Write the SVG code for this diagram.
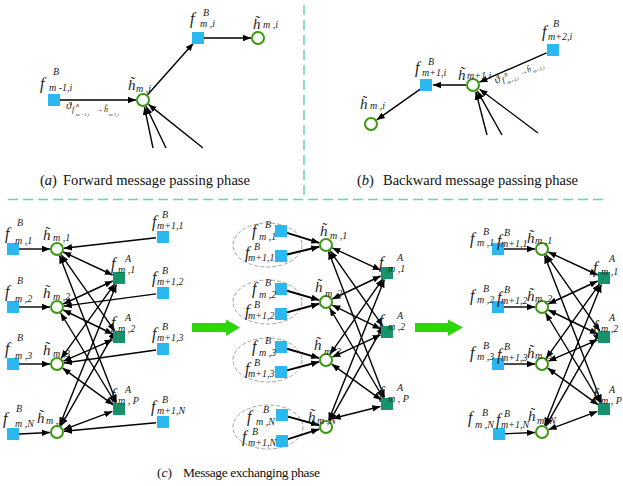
<svg xmlns="http://www.w3.org/2000/svg" width="623" height="486" viewBox="0 0 623 486">
<style>
.L{font-family:"Liberation Serif","Times New Roman",serif;font-style:italic;fill:#222}
.F{font-size:16px}
.H{font-size:15px}
.S{font-size:10px}
.cap{font-family:"Liberation Serif","Times New Roman",serif;fill:#111}
.e{stroke:#000;stroke-width:1.4;fill:none;marker-end:url(#ah)}
.bi{marker-start:url(#ah)}
.tk{stroke-width:2}
.sb{fill:#2bb8ee}
.sa{fill:#17936b}
.c{fill:#fff;stroke:#3a9a10;stroke-width:2}
.dl{stroke:#66d4b0;stroke-width:1.5;stroke-dasharray:10 5;fill:none}
.el{fill:none;stroke:#8a8a8a;stroke-width:0.8;stroke-dasharray:4 2}
.ga{fill:#30d40a}
</style>
<defs>
<marker id="ah" viewBox="0 0 10 10" refX="10" refY="5" markerWidth="8" markerHeight="8" markerUnits="userSpaceOnUse" orient="auto-start-reverse"><path d="M0,1 L10,5 L0,9 z" fill="#000"/></marker>
</defs>
<rect width="623" height="486" fill="#fff"/>

<g id="separators">
<line class="dl" x1="304" y1="5" x2="304" y2="199"/>
<line class="dl" x1="8" y1="199.5" x2="607" y2="199.5"/>
</g>

<g id="phase-arrows">
<polygon class="ga" points="192,323 226,323 226,319.5 240,327.5 226,336 226,332 192,332"/>
<polygon class="ga" points="415,323 448,323 448,319.5 463,327.5 448,336 448,332 415,332"/>
</g>

<g id="ellipses">
<ellipse class="el" cx="267.5" cy="245" rx="34.5" ry="22"/>
<ellipse class="el" cx="267.5" cy="302" rx="34.5" ry="22"/>
<ellipse class="el" cx="267.5" cy="360" rx="34.5" ry="22"/>
<ellipse class="el" cx="268" cy="427" rx="35" ry="22"/>
</g>

<g id="connectors">
<!-- panel a -->
<line class="e" x1="60" y1="100" x2="136" y2="100"/>
<line class="e" x1="147.6" y1="94.8" x2="193.4" y2="43.2"/>
<line class="e" x1="204" y1="38" x2="251" y2="38"/>
<line class="e" x1="153" y1="148" x2="144.4" y2="106.9"/>
<line class="e" x1="166" y1="148" x2="146" y2="106.3"/>
<line class="e" x1="203" y1="148" x2="148.5" y2="104.4"/>
<!-- panel b -->
<line class="e" x1="546.6" y1="52.8" x2="479.4" y2="82.2"/>
<line class="e" x1="466" y1="85" x2="433" y2="85"/>
<line class="e" x1="420.3" y1="89.1" x2="376.7" y2="119.9"/>
<line class="e" x1="487" y1="135" x2="475.8" y2="91.8"/>
<line class="e" x1="502" y1="135" x2="477.4" y2="91.1"/>
<line class="e" x1="538" y1="133" x2="479.6" y2="89.2"/>
<!-- panel c left -->
<line class="e" x1="19" y1="249" x2="50" y2="249"/>
<line class="e" x1="19" y1="307" x2="50" y2="307"/>
<line class="e" x1="19" y1="364" x2="50" y2="364"/>
<line class="e" x1="19" y1="434" x2="50" y2="432.5"/>
<line class="e" x1="156" y1="237.8" x2="64" y2="248.2"/>
<line class="e" x1="156.1" y1="293.9" x2="63.9" y2="306.1"/>
<line class="e" x1="156.1" y1="350" x2="63.9" y2="363"/>
<line class="e" x1="156" y1="422.7" x2="64" y2="431.3"/>
<line class="e bi" x1="63.3" y1="252" x2="112.7" y2="275"/>
<line class="e bi" x1="61" y1="254.7" x2="115" y2="331.3"/>
<line class="e bi" x1="59.5" y1="255.5" x2="116.5" y2="402.5"/>
<line class="e bi" x1="63.3" y1="304" x2="112.7" y2="281"/>
<line class="e bi" x1="63.3" y1="310" x2="112.7" y2="334"/>
<line class="e bi" x1="60.6" y1="313" x2="115.4" y2="403"/>
<line class="e bi" x1="61.1" y1="358.3" x2="114.9" y2="283.7"/>
<line class="e bi" x1="63.4" y1="361.2" x2="112.6" y2="339.8"/>
<line class="e bi" x1="62.7" y1="368.1" x2="113.3" y2="404.9"/>
<line class="e bi" x1="59.6" y1="425.5" x2="116.4" y2="284.5"/>
<line class="e bi" x1="60.8" y1="426.1" x2="115.2" y2="331.1"/>
<line class="e bi" x1="63.6" y1="429.6" x2="112.4" y2="411.4"/>
<!-- panel c middle -->
<line class="e tk" x1="287" y1="232.9" x2="319.3" y2="242.9"/>
<line class="e tk" x1="287" y1="254.5" x2="319.2" y2="246.7"/>
<line class="e tk" x1="287" y1="290.7" x2="319.3" y2="300.1"/>
<line class="e tk" x1="287" y1="312.4" x2="319.2" y2="303.8"/>
<line class="e tk" x1="287" y1="348.7" x2="319.3" y2="358.1"/>
<line class="e tk" x1="287" y1="370.4" x2="319.2" y2="361.8"/>
<line class="e tk" x1="288" y1="416.6" x2="319.2" y2="425.2"/>
<line class="e tk" x1="288" y1="439.1" x2="319.3" y2="429.1"/>
<line class="e bi" x1="332.4" y1="247.9" x2="380.6" y2="270.1"/>
<line class="e bi" x1="330" y1="250.7" x2="383" y2="326.3"/>
<line class="e bi" x1="328.5" y1="251.5" x2="384.5" y2="397.5"/>
<line class="e bi" x1="332.3" y1="299" x2="380.7" y2="276"/>
<line class="e bi" x1="332.3" y1="305.1" x2="380.7" y2="328.9"/>
<line class="e bi" x1="329.6" y1="308" x2="383.4" y2="398"/>
<line class="e bi" x1="330" y1="354.3" x2="383" y2="278.7"/>
<line class="e bi" x1="332.4" y1="357.1" x2="380.6" y2="334.9"/>
<line class="e bi" x1="331.7" y1="364.1" x2="381.3" y2="399.9"/>
<line class="e bi" x1="328.6" y1="420.5" x2="384.4" y2="279.5"/>
<line class="e bi" x1="329.8" y1="421.1" x2="383.2" y2="326.1"/>
<line class="e bi" x1="332.6" y1="418.5" x2="380.4" y2="406.5"/>
<!-- panel c right -->
<line class="e" x1="504" y1="249" x2="535" y2="249"/>
<line class="e" x1="504" y1="307" x2="535" y2="307"/>
<line class="e" x1="504" y1="364" x2="535" y2="364"/>
<line class="e" x1="505" y1="433.8" x2="535" y2="432.5"/>
<line class="e bi" x1="548.3" y1="252" x2="597.7" y2="275"/>
<line class="e bi" x1="546" y1="254.7" x2="600" y2="331.3"/>
<line class="e bi" x1="544.5" y1="255.5" x2="601.5" y2="402.5"/>
<line class="e bi" x1="548.3" y1="304" x2="597.7" y2="281"/>
<line class="e bi" x1="548.3" y1="310" x2="597.7" y2="334"/>
<line class="e bi" x1="545.6" y1="313" x2="600.4" y2="403"/>
<line class="e bi" x1="546.1" y1="358.3" x2="599.9" y2="283.7"/>
<line class="e bi" x1="548.4" y1="361.2" x2="597.6" y2="339.8"/>
<line class="e bi" x1="547.7" y1="368.1" x2="598.3" y2="404.9"/>
<line class="e bi" x1="544.6" y1="425.5" x2="601.4" y2="284.5"/>
<line class="e bi" x1="545.8" y1="426.1" x2="600.2" y2="331.1"/>
<line class="e bi" x1="548.6" y1="429.6" x2="597.4" y2="411.4"/>
</g>

<g id="edge-labels">
<text class="L"><tspan x="66" y="109" font-size="11">ϑ</tspan><tspan x="72" y="112" font-size="8">f</tspan><tspan x="76" y="107" font-size="5">B</tspan><tspan x="76" y="115.5" font-size="5">m −1,i</tspan><tspan x="95" y="112" font-size="8" font-style="normal">→</tspan><tspan x="104" y="112" font-size="8">h̃</tspan><tspan x="109" y="115.5" font-size="5">m    1,i</tspan></text>
<g transform="translate(496,84) rotate(-23)">
<text class="L"><tspan x="0" y="0" font-size="11">ϑ</tspan><tspan x="7" y="2" font-size="8">f</tspan><tspan x="11" y="-3" font-size="5">B</tspan><tspan x="11" y="5" font-size="5">m+2,i</tspan><tspan x="26" y="2" font-size="8" font-style="normal">→</tspan><tspan x="34" y="2" font-size="8">h̃</tspan><tspan x="39" y="5" font-size="5">m+1,i</tspan></text>
</g>
</g>

<!-- Panel (a) nodes -->
<g id="a-f-m-1-i"><rect class="sb" x="48" y="94" width="12" height="12"/>
<text class="L"><tspan class="F" x="40" y="89">f</tspan><tspan class="S" x="53" y="75">B</tspan><tspan class="S" x="49" y="91">m -1,i</tspan></text></g>
<g id="a-h-m-i"><circle class="c" cx="143" cy="100" r="6"/>
<text class="L"><tspan class="H" x="128" y="90">h̃</tspan><tspan class="S" x="136" y="92">m ,i</tspan></text></g>
<g id="a-f-m-i"><rect class="sb" x="192" y="32" width="12" height="12"/>
<text class="L"><tspan class="F" x="190" y="24">f</tspan><tspan class="S" x="203" y="16">B</tspan><tspan class="S" x="200" y="27">m ,i</tspan></text></g>
<g id="a-h-m-i-out"><circle class="c" cx="258" cy="38" r="6"/>
<text class="L"><tspan class="H" x="253" y="29">h̃</tspan><tspan class="S" x="263" y="28">m ,i</tspan></text></g>

<!-- Panel (b) nodes -->
<g id="b-f-m2-i"><rect class="sb" x="547" y="44" width="12" height="12"/>
<text class="L"><tspan class="F" x="542" y="37">f</tspan><tspan class="S" x="553" y="27">B</tspan><tspan class="S" x="548" y="40">m+2,i</tspan></text></g>
<g id="b-h-m1-i"><circle class="c" cx="473" cy="85" r="6"/>
<text class="L"><tspan class="H" x="458" y="80">h̃</tspan><tspan class="S" x="467" y="79">m+1,i</tspan></text></g>
<g id="b-f-m1-i"><rect class="sb" x="420" y="79" width="12" height="12"/>
<text class="L"><tspan class="F" x="415" y="73">f</tspan><tspan class="S" x="428" y="65">B</tspan><tspan class="S" x="422" y="76">m+1,i</tspan></text></g>
<g id="b-h-m-i"><circle class="c" cx="371" cy="124" r="6"/>
<text class="L"><tspan class="H" x="360" y="109">h̃</tspan><tspan class="S" x="370" y="109">m ,i</tspan></text></g>

<!-- Panel (c) left -->
<g id="cl-fB-m-1"><rect class="sb" x="7" y="243" width="12" height="12"/>
<text class="L"><tspan class="F" x="5" y="239">f</tspan><tspan class="S" x="17" y="226">B</tspan><tspan class="S" x="15" y="244">m ,1</tspan></text></g>
<g id="cl-fB-m-2"><rect class="sb" x="7" y="301" width="12" height="12"/>
<text class="L"><tspan class="F" x="5" y="297">f</tspan><tspan class="S" x="17" y="284">B</tspan><tspan class="S" x="15" y="302">m ,2</tspan></text></g>
<g id="cl-fB-m-3"><rect class="sb" x="7" y="358" width="12" height="12"/>
<text class="L"><tspan class="F" x="5" y="354">f</tspan><tspan class="S" x="17" y="341">B</tspan><tspan class="S" x="15" y="359">m ,3</tspan></text></g>
<g id="cl-fB-m-N"><rect class="sb" x="7" y="428" width="12" height="12"/>
<text class="L"><tspan class="F" x="3" y="424">f</tspan><tspan class="S" x="16" y="412">B</tspan><tspan class="S" x="15" y="427">m ,N</tspan></text></g>

<g id="cl-h-1"><circle class="c" cx="57" cy="249" r="6"/>
<text class="L"><tspan class="H" x="43" y="240">h̃</tspan><tspan class="S" x="53" y="241">m ,1</tspan></text></g>
<g id="cl-h-2"><circle class="c" cx="57" cy="307" r="6"/>
<text class="L"><tspan class="H" x="43" y="298">h̃</tspan><tspan class="S" x="53" y="300">m ,2</tspan></text></g>
<g id="cl-h-3"><circle class="c" cx="57" cy="364" r="6"/>
<text class="L"><tspan class="H" x="43" y="355">h̃</tspan><tspan class="S" x="53" y="357">m ,3</tspan></text></g>
<g id="cl-h-N"><circle class="c" cx="57" cy="432" r="6"/>
<text class="L"><tspan class="H" x="37" y="423">h̃</tspan><tspan class="S" x="46" y="424">m ,N</tspan></text></g>

<g id="cl-fA-1"><rect class="sa" x="113" y="272" width="12" height="12"/>
<text class="L"><tspan class="F" x="111" y="269">f</tspan><tspan class="S" x="125" y="262">A</tspan><tspan class="S" x="118" y="273">m ,1</tspan></text></g>
<g id="cl-fA-2"><rect class="sa" x="113" y="331" width="12" height="12"/>
<text class="L"><tspan class="F" x="111" y="328">f</tspan><tspan class="S" x="125" y="321">A</tspan><tspan class="S" x="118" y="332">m ,2</tspan></text></g>
<g id="cl-fA-P"><rect class="sa" x="113" y="403" width="12" height="12"/>
<text class="L"><tspan class="F" x="111" y="400">f</tspan><tspan class="S" x="125" y="393">A</tspan><tspan class="S" x="118" y="404">m , P</tspan></text></g>

<g id="cl-fB-m1-1"><rect class="sb" x="157" y="231" width="12" height="12"/>
<text class="L"><tspan class="F" x="152" y="227">f</tspan><tspan class="S" x="162" y="218">B</tspan><tspan class="S" x="157" y="229">m+1,1</tspan></text></g>
<g id="cl-fB-m1-2"><rect class="sb" x="157" y="287" width="12" height="12"/>
<text class="L"><tspan class="F" x="152" y="283">f</tspan><tspan class="S" x="162" y="274">B</tspan><tspan class="S" x="157" y="285">m+1,2</tspan></text></g>
<g id="cl-fB-m1-3"><rect class="sb" x="157" y="343" width="12" height="12"/>
<text class="L"><tspan class="F" x="152" y="339">f</tspan><tspan class="S" x="162" y="330">B</tspan><tspan class="S" x="157" y="341">m+1,3</tspan></text></g>
<g id="cl-fB-m1-N"><rect class="sb" x="157" y="416" width="12" height="12"/>
<text class="L"><tspan class="F" x="151" y="412">f</tspan><tspan class="S" x="162" y="403">B</tspan><tspan class="S" x="157" y="414">m+1,N</tspan></text></g>

<!-- Panel (c) middle -->
<g id="cm-fB-m-1"><rect class="sb" x="275" y="225" width="12" height="12"/>
<text class="L"><tspan class="F" x="252" y="236">f</tspan><tspan class="S" x="265" y="228">B</tspan><tspan class="S" x="259" y="240">m ,1</tspan></text></g>
<g id="cm-fB-m1-1"><rect class="sb" x="275" y="250" width="12" height="12"/>
<text class="L"><tspan class="F" x="245" y="258">f</tspan><tspan class="S" x="254" y="249.5">B</tspan><tspan class="S" x="248" y="261">m+1,1</tspan></text></g>
<g id="cm-fB-m-2"><rect class="sb" x="275" y="283" width="12" height="12"/>
<text class="L"><tspan class="F" x="252" y="294">f</tspan><tspan class="S" x="265" y="286">B</tspan><tspan class="S" x="259" y="298">m ,2</tspan></text></g>
<g id="cm-fB-m1-2"><rect class="sb" x="275" y="308" width="12" height="12"/>
<text class="L"><tspan class="F" x="245" y="316">f</tspan><tspan class="S" x="254" y="307.5">B</tspan><tspan class="S" x="248" y="319">m+1,2</tspan></text></g>
<g id="cm-fB-m-3"><rect class="sb" x="275" y="341" width="12" height="12"/>
<text class="L"><tspan class="F" x="252" y="352">f</tspan><tspan class="S" x="265" y="344">B</tspan><tspan class="S" x="259" y="356">m ,3</tspan></text></g>
<g id="cm-fB-m1-3"><rect class="sb" x="275" y="366" width="12" height="12"/>
<text class="L"><tspan class="F" x="245" y="374">f</tspan><tspan class="S" x="254" y="365.5">B</tspan><tspan class="S" x="248" y="377">m+1,3</tspan></text></g>
<g id="cm-fB-m-N"><rect class="sb" x="276" y="409" width="12" height="12"/>
<text class="L"><tspan class="F" x="247" y="422">f</tspan><tspan class="S" x="263" y="413">B</tspan><tspan class="S" x="256" y="425">m ,N</tspan></text></g>
<g id="cm-fB-m1-N"><rect class="sb" x="276" y="435" width="12" height="12"/>
<text class="L"><tspan class="F" x="242" y="442">f</tspan><tspan class="S" x="252" y="434.5">B</tspan><tspan class="S" x="248" y="446">m+1,N</tspan></text></g>

<g id="cm-h-1"><circle class="c" cx="326" cy="245" r="6"/>
<text class="L"><tspan class="H" x="320" y="236">h̃</tspan><tspan class="S" x="330" y="239">m ,1</tspan></text></g>
<g id="cm-h-2"><circle class="c" cx="326" cy="302" r="6"/>
<text class="L"><tspan class="H" x="315" y="292">h̃</tspan><tspan class="S" x="325" y="297">m ,2</tspan></text></g>
<g id="cm-h-3"><circle class="c" cx="326" cy="360" r="6"/>
<text class="L"><tspan class="H" x="314" y="350">h̃</tspan><tspan class="S" x="324" y="355">m ,3</tspan></text></g>
<g id="cm-h-N"><circle class="c" cx="326" cy="427" r="6"/>
<text class="L"><tspan class="H" x="308" y="422">h̃</tspan><tspan class="S" x="317" y="424">m ,N</tspan></text></g>

<g id="cm-fA-1"><rect class="sa" x="381" y="267" width="12" height="12"/>
<text class="L"><tspan class="F" x="379" y="268">f</tspan><tspan class="S" x="397" y="260.5">A</tspan><tspan class="S" x="388" y="272">m ,1</tspan></text></g>
<g id="cm-fA-2"><rect class="sa" x="381" y="326" width="12" height="12"/>
<text class="L"><tspan class="F" x="379" y="326">f</tspan><tspan class="S" x="397" y="318.5">A</tspan><tspan class="S" x="388" y="330">m ,2</tspan></text></g>
<g id="cm-fA-P"><rect class="sa" x="381" y="398" width="12" height="12"/>
<text class="L"><tspan class="F" x="379" y="398">f</tspan><tspan class="S" x="397" y="390.5">A</tspan><tspan class="S" x="388" y="402">m , P</tspan></text></g>

<!-- Panel (c) right -->
<g id="cr-fB-1"><rect class="sb" x="492" y="243" width="12" height="12"/>
<text class="L"><tspan class="F" x="470" y="244">f</tspan><tspan class="S" x="483" y="235">B</tspan><tspan class="S" x="477" y="246">m ,1</tspan><tspan class="F" x="497" y="246">f</tspan><tspan class="S" x="504" y="236">B</tspan><tspan class="S" x="501" y="247">m+1,1</tspan></text></g>
<g id="cr-fB-2"><rect class="sb" x="492" y="301" width="12" height="12"/>
<text class="L"><tspan class="F" x="470" y="301">f</tspan><tspan class="S" x="483" y="292">B</tspan><tspan class="S" x="477" y="303">m ,2</tspan><tspan class="F" x="497" y="303">f</tspan><tspan class="S" x="504" y="293">B</tspan><tspan class="S" x="501" y="304">m+1,2</tspan></text></g>
<g id="cr-fB-3"><rect class="sb" x="492" y="358" width="12" height="12"/>
<text class="L"><tspan class="F" x="470" y="358">f</tspan><tspan class="S" x="483" y="349">B</tspan><tspan class="S" x="477" y="360">m ,3</tspan><tspan class="F" x="497" y="360">f</tspan><tspan class="S" x="504" y="350">B</tspan><tspan class="S" x="501" y="361">m+1,3</tspan></text></g>
<g id="cr-fB-N"><rect class="sb" x="493" y="428" width="12" height="12"/>
<text class="L"><tspan class="F" x="468" y="423">f</tspan><tspan class="S" x="482" y="416">B</tspan><tspan class="S" x="475" y="428">m ,N</tspan><tspan class="F" x="496" y="425">f</tspan><tspan class="S" x="504" y="417">B</tspan><tspan class="S" x="501" y="428">m+1,N</tspan></text></g>

<g id="cr-h-1"><circle class="c" cx="542" cy="249" r="6"/>
<text class="L"><tspan class="H" x="527" y="243">h̃</tspan><tspan class="S" x="535" y="244">m ,1</tspan></text></g>
<g id="cr-h-2"><circle class="c" cx="542" cy="307" r="6"/>
<text class="L"><tspan class="H" x="527" y="301">h̃</tspan><tspan class="S" x="535" y="302">m ,2</tspan></text></g>
<g id="cr-h-3"><circle class="c" cx="542" cy="364" r="6"/>
<text class="L"><tspan class="H" x="527" y="358">h̃</tspan><tspan class="S" x="535" y="359">m ,3</tspan></text></g>
<g id="cr-h-N"><circle class="c" cx="542" cy="432" r="6"/>
<text class="L"><tspan class="H" x="528" y="421">h̃</tspan><tspan class="S" x="537" y="424">m ,N</tspan></text></g>

<g id="cr-fA-1"><rect class="sa" x="598" y="272" width="12" height="12"/>
<text class="L"><tspan class="F" x="593" y="273">f</tspan><tspan class="S" x="609" y="262">A</tspan><tspan class="S" x="601" y="275">m ,1</tspan></text></g>
<g id="cr-fA-2"><rect class="sa" x="598" y="331" width="12" height="12"/>
<text class="L"><tspan class="F" x="593" y="332">f</tspan><tspan class="S" x="609" y="321">A</tspan><tspan class="S" x="601" y="332">m ,2</tspan></text></g>
<g id="cr-fA-P"><rect class="sa" x="598" y="403" width="12" height="12"/>
<text class="L"><tspan class="F" x="593" y="400">f</tspan><tspan class="S" x="609" y="393">A</tspan><tspan class="S" x="601" y="404">m , P</tspan></text></g>

<g id="captions">
<text class="cap" font-size="14.5" y="185"><tspan x="40">(</tspan><tspan font-style="italic">a</tspan><tspan>)</tspan><tspan x="63" textLength="187" lengthAdjust="spacing">Forward message passing phase</tspan></text>
<text class="cap" font-size="14.5" y="185"><tspan x="357">(</tspan><tspan font-style="italic">b</tspan><tspan>)</tspan><tspan x="383" textLength="195" lengthAdjust="spacing">Backward message passing phase</tspan></text>
<text class="cap" font-size="13.5" y="477"><tspan x="157">(</tspan><tspan font-style="italic">c</tspan><tspan>)</tspan><tspan x="183" textLength="137" lengthAdjust="spacing">Message exchanging  phase</tspan></text>
</g>
</svg>
